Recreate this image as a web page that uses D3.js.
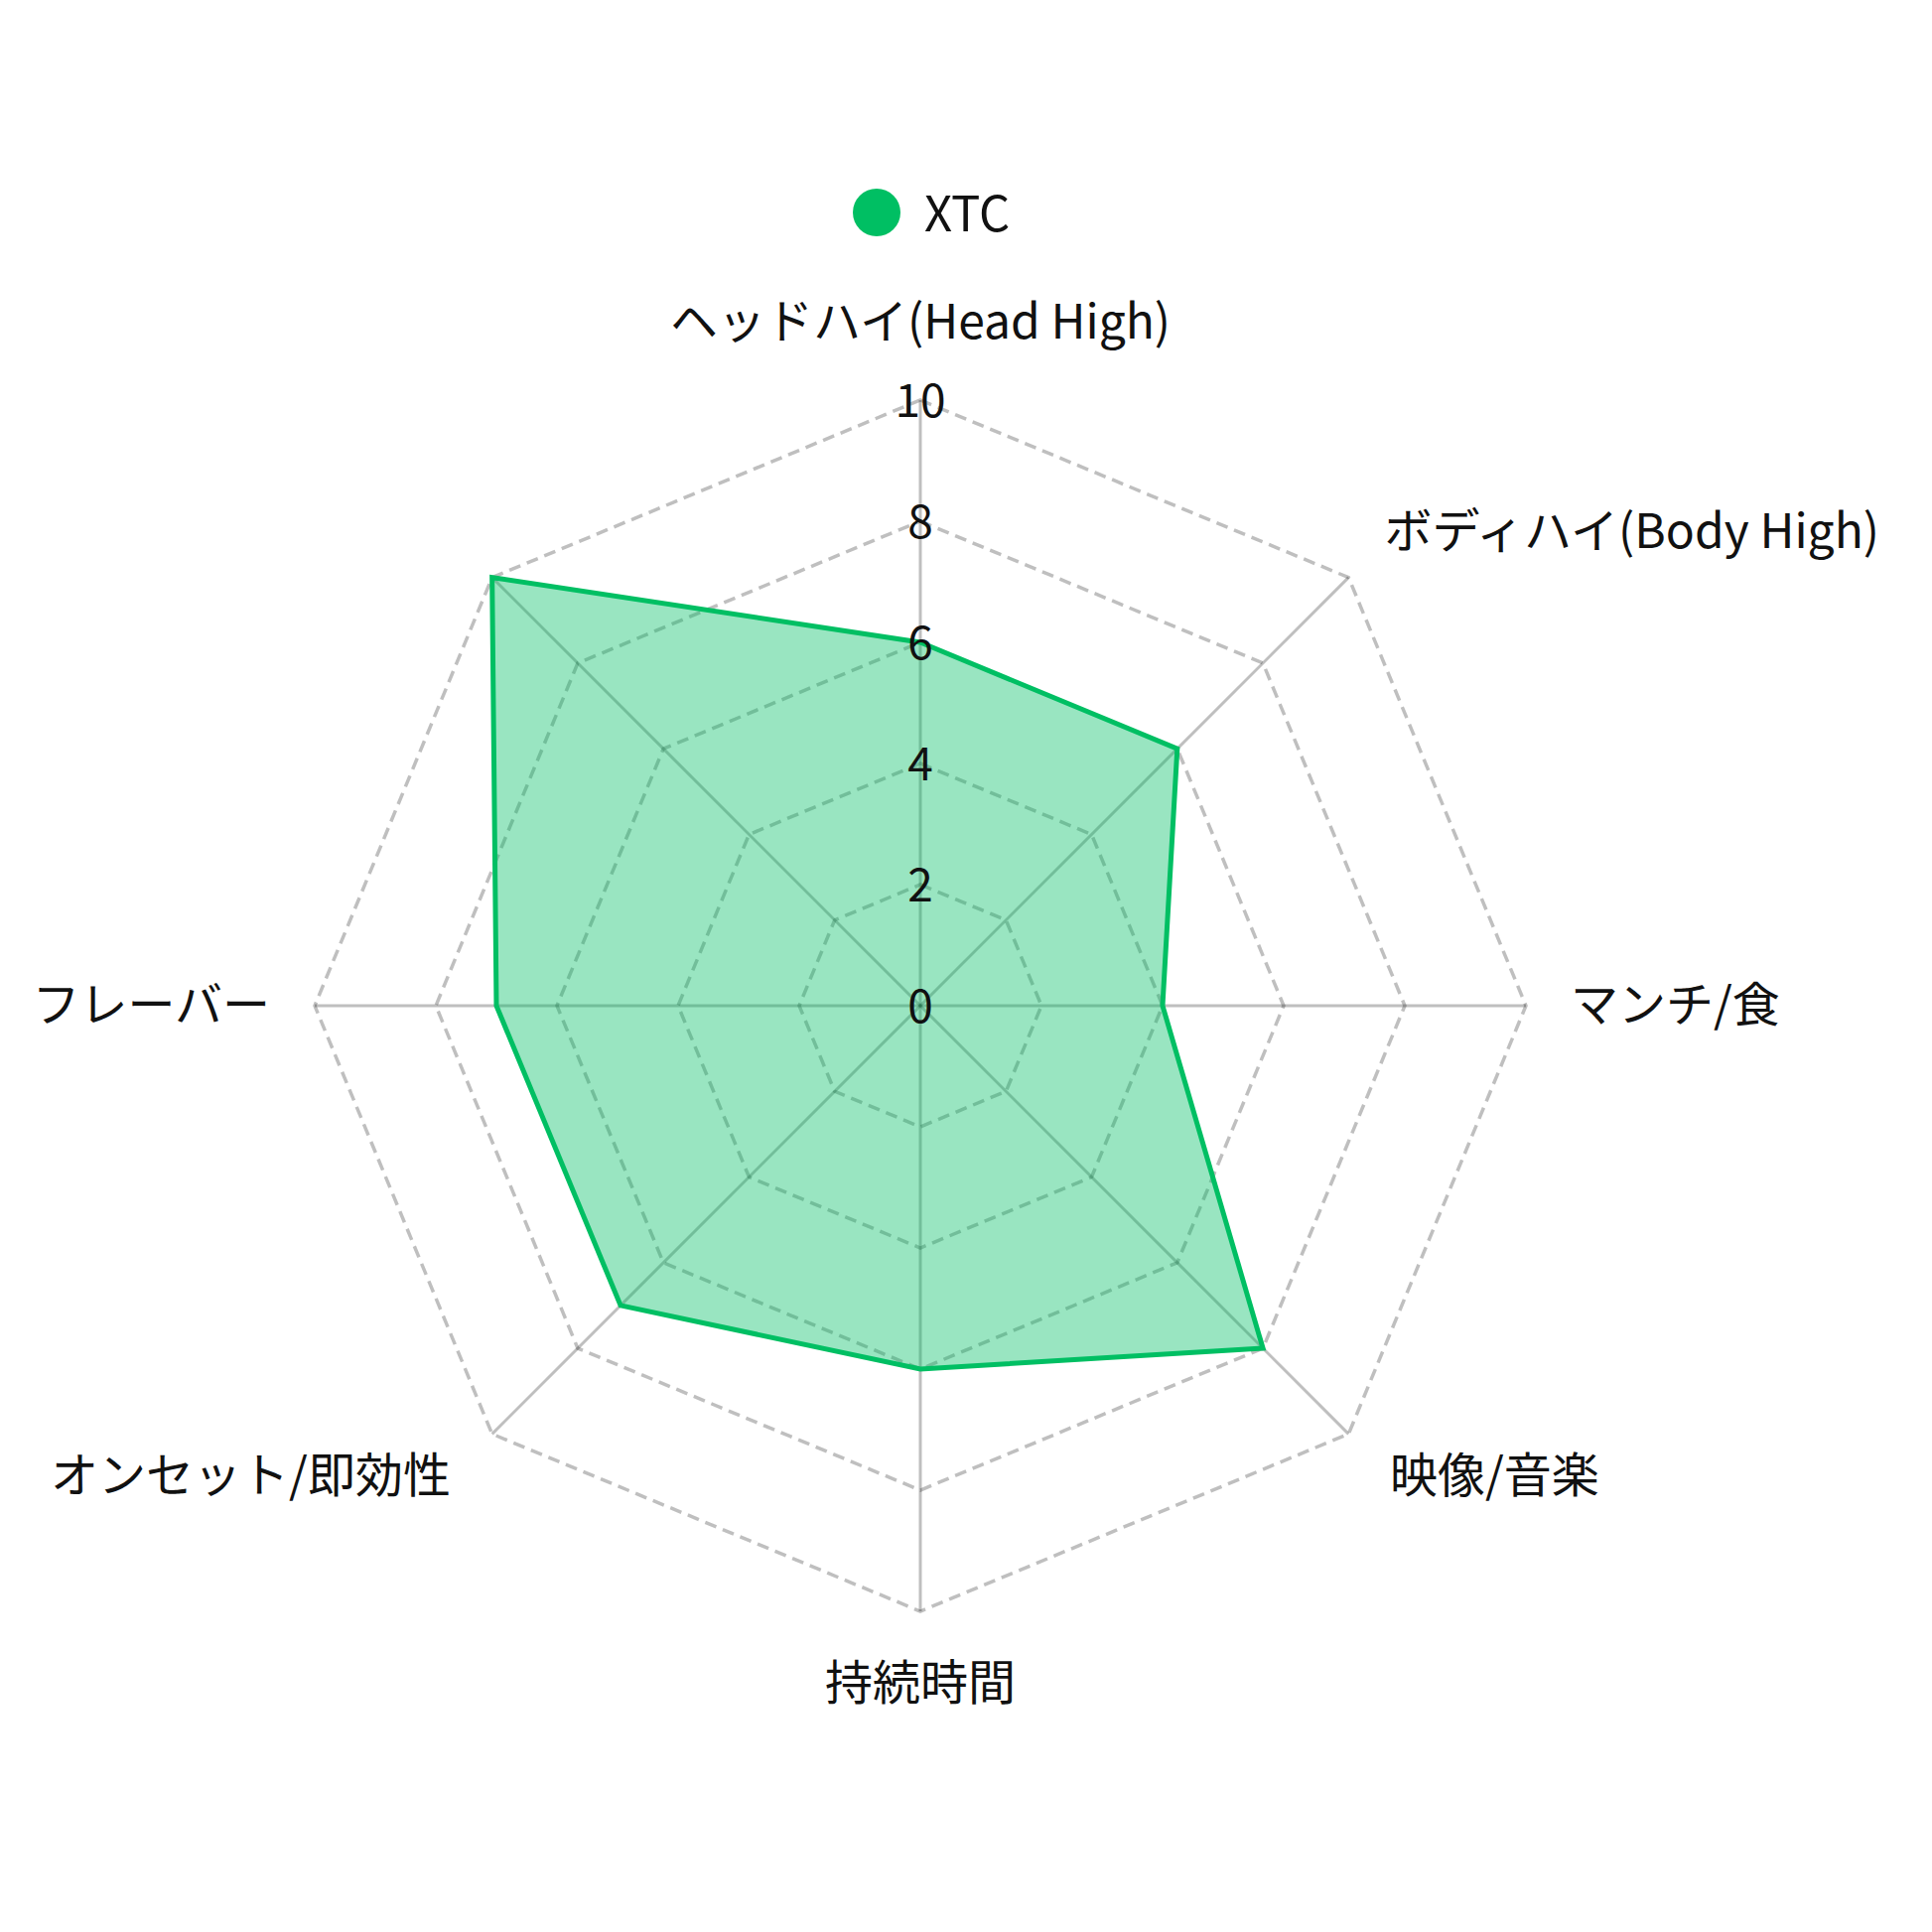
<!DOCTYPE html>
<html>
<head>
<meta charset="utf-8">
<script src="https://cdn.jsdelivr.net/npm/d3@7"></script>
<style>
  html, body { margin: 0; padding: 0; background: #fff; }
  svg { display: block; }
  text { font-family: "Noto Sans CJK JP", "Noto Sans", sans-serif; }
</style>
</head>
<body>
<svg id="chart" width="1946" height="1946"></svg>
<script>
// ---- data ----
const categories = ["ヘッドハイ(Head High)", "ボディハイ(Body High)", "マンチ/食", "映像/音楽", "持続時間", "オンセット/即効性", "フレーバー", ""];
const seriesName = "XTC";
const seriesValues = [6, 6, 4, 8, 6, 7, 7, 10];
const tickValues = [0, 2, 4, 6, 8, 10];
const ringValues = [2, 4, 6, 8, 10];
const maxValue = 10;

// ---- layout ----
const cx = 927, cy = 1013, R = 610;
const green = "#00BF63";
const gridColor = "rgba(0,0,0,0.25)";

const svg = d3.select("#chart");
const r = d3.scaleLinear().domain([0, maxValue]).range([0, R]);
const n = categories.length;
const angle = d3.scaleLinear().domain([0, n]).range([Math.PI / 2, Math.PI / 2 - 2 * Math.PI]);
const pt = (i, v) => [cx + r(v) * Math.cos(angle(i)), cy - r(v) * Math.sin(angle(i))];

const line = d3.line().curve(d3.curveLinearClosed);

// rings (dashed)
svg.append("g").selectAll("path").data(ringValues).join("path")
  .attr("d", v => line(d3.range(n).map(i => pt(i, v))))
  .attr("fill", "none")
  .attr("stroke", gridColor)
  .attr("stroke-width", 3.5)
  .attr("stroke-dasharray", "12 7");

// axis lines
svg.append("g").selectAll("line").data(d3.range(n)).join("line")
  .attr("x1", cx).attr("y1", cy)
  .attr("x2", i => pt(i, maxValue)[0])
  .attr("y2", i => pt(i, maxValue)[1])
  .attr("stroke", gridColor)
  .attr("stroke-width", 3);

// series polygon
const poly = d3.range(n).map(i => pt(i, seriesValues[i]));
svg.append("path")
  .attr("d", line(poly))
  .attr("fill", green)
  .attr("fill-opacity", 0.4)
  .attr("stroke", green)
  .attr("stroke-width", 5)
  .attr("stroke-linejoin", "miter");

// tick labels
svg.append("g").selectAll("text").data(tickValues).join("text")
  .attr("x", cx)
  .attr("y", v => cy - r(v) - 3)
  .attr("text-anchor", "middle")
  .attr("dominant-baseline", "central")
  .attr("font-size", 46)
  .attr("fill", "#111")
  .text(v => v);

// axis names
const gap = 655;
svg.append("g").selectAll("text").data(categories).join("text")
  .each(function(name, i) {
    const a = angle(i);
    const c = Math.cos(a), s = Math.sin(a);
    let anchor = "middle";
    if (c > 0.01) anchor = "start";
    else if (c < -0.01) anchor = "end";
    const kx = s < -0.1 ? 14 : 6;
    const extraX = Math.abs(c) > 0.01 ? Math.sign(c) * kx * Math.abs(s) : 0;
    let fix;
    if (s > 0.9) fix = -8;
    else if (s > 0.1) fix = -4;
    else if (s > -0.1) fix = -5;
    else if (s > -0.9) fix = -9;
    else fix = -7;
    const x = cx + gap * c + extraX;
    const y = cy - gap * s - 30 * s * Math.abs(s) + fix;
    d3.select(this)
      .attr("x", x).attr("y", y)
      .attr("text-anchor", anchor)
      .attr("dominant-baseline", "central")
      .attr("font-size", 48)
      .attr("fill", "#111")
      .text(name);
  });

// legend
const legend = svg.append("g");
legend.append("circle")
  .attr("cx", 883).attr("cy", 214).attr("r", 24)
  .attr("fill", green);
legend.append("text")
  .attr("x", 931).attr("y", 211)
  .attr("dominant-baseline", "central")
  .attr("font-size", 49)
  .attr("fill", "#111")
  .text(seriesName);
</script>
</body>
</html>
